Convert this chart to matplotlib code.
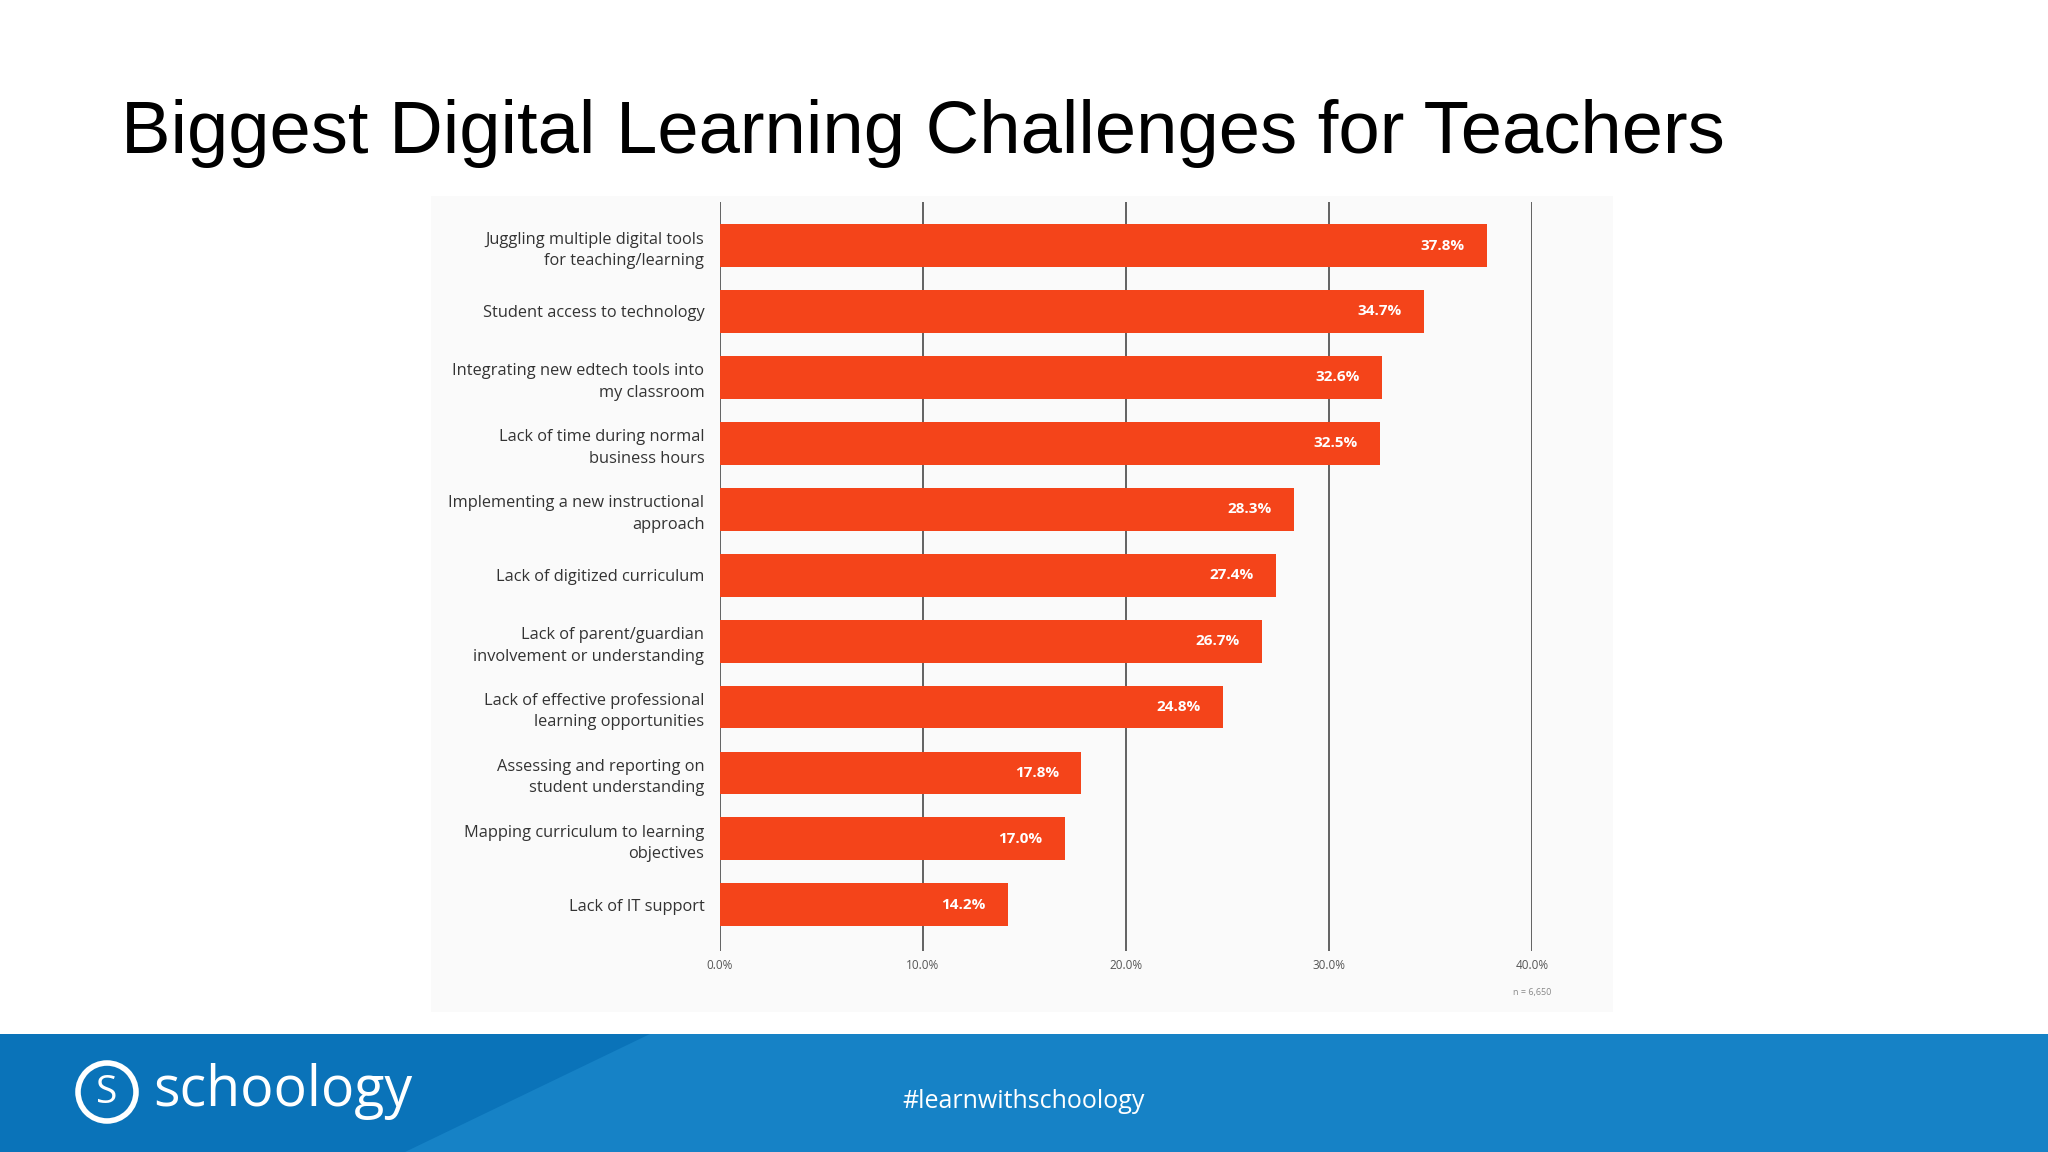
import matplotlib.pyplot as plt
from matplotlib.patches import Rectangle, Polygon, Ellipse

categories = [
    "Juggling multiple digital tools\nfor teaching/learning",
    "Student access to technology",
    "Integrating new edtech tools into\nmy classroom",
    "Lack of time during normal\nbusiness hours",
    "Implementing a new instructional\napproach",
    "Lack of digitized curriculum",
    "Lack of parent/guardian\ninvolvement or understanding",
    "Lack of effective professional\nlearning opportunities",
    "Assessing and reporting on\nstudent understanding",
    "Mapping curriculum to learning\nobjectives",
    "Lack of IT support",
]
values = [37.8, 34.7, 32.6, 32.5, 28.3, 27.4, 26.7, 24.8, 17.8, 17.0, 14.2]
xticks = [0, 10, 20, 30, 40]
xtick_labels = ["0.0%", "10.0%", "20.0%", "30.0%", "40.0%"]

BAR = "#f4441a"
GRID = "#555555"

fig = plt.figure(figsize=(20.48, 11.52), dpi=100)
fig.patch.set_facecolor("white")

# faint backdrop of the pasted chart image
fig.patches.append(Rectangle((431 / 2048, 1 - 1012 / 1152), (1613 - 431) / 2048, (1012 - 196) / 1152,
                             transform=fig.transFigure, facecolor="#fafafa", edgecolor="none", zorder=-2))

# footer band
fh = 118 / 1152
fig.patches.append(Rectangle((0, 0), 1, fh, transform=fig.transFigure,
                             facecolor="#1682c6", edgecolor="none", zorder=-2))
fig.patches.append(Polygon([(0, 0), (405 / 2048, 0), (650 / 2048, fh), (0, fh)], closed=True,
                           transform=fig.transFigure, facecolor="#0a73b9", edgecolor="none", zorder=-1))

ax = fig.add_axes([719.7 / 2048, 201 / 1152, (1532 - 719.7) / 2048, 749 / 1152])
ax.set_facecolor("none")
pos = list(range(len(categories)))
ax.barh(pos, values, height=0.65, color=BAR, zorder=3)
for p, v in zip(pos, values):
    ax.text(v - 1.1, p, f"{v:.1f}%", ha="right", va="center", color="white",
            fontsize=11, fontweight="bold", family="Open Sans", zorder=4)

ax.set_xlim(0, 40)
ax.set_ylim(10.70, -0.66)
ax.set_yticks(pos)
ax.set_yticklabels(categories, fontsize=11.8, family="Open Sans", color="#333333", linespacing=1.45)
ax.set_xticks(xticks)
ax.set_xticklabels(xtick_labels, fontsize=8.5, family="Open Sans", color="#555555")
ax.tick_params(length=0, axis="both")
ax.tick_params(axis="y", pad=11)
ax.tick_params(axis="x", pad=6)
for s in ax.spines.values():
    s.set_visible(False)
for x in xticks:
    ax.axvline(x, color=GRID, linewidth=1.3, zorder=1)

fig.text(1532 / 2048, 1 - 993 / 1152, "n = 6,650", ha="center", va="center",
         fontsize=6.5, color="#888888", family="Open Sans")

fig.text(121 / 2048, 1 - 133 / 1152, "Biggest Digital Learning Challenges for Teachers",
         ha="left", va="center", fontsize=53.5, family="Liberation Sans", color="black")

# footer content
fig.patches.append(Ellipse((107 / 2048, 1 - 1092 / 1152), 58 / 2048, 58 / 1152, transform=fig.transFigure,
                           facecolor="none", edgecolor="white", linewidth=4, zorder=2))
fig.text(107 / 2048, 1 - 1093 / 1152, "S", ha="center", va="center", fontsize=28,
         color="white", family="Open Sans")
fig.text(153 / 2048, 1 - 1092 / 1152, "schoology", ha="left", va="center", fontsize=40,
         color="white", family="Open Sans")
fig.text(1024 / 2048, 1 - 1101 / 1152, "#learnwithschoology", ha="center", va="center",
         fontsize=18, color="white", family="Open Sans")

fig.savefig("out.png", dpi=100)
